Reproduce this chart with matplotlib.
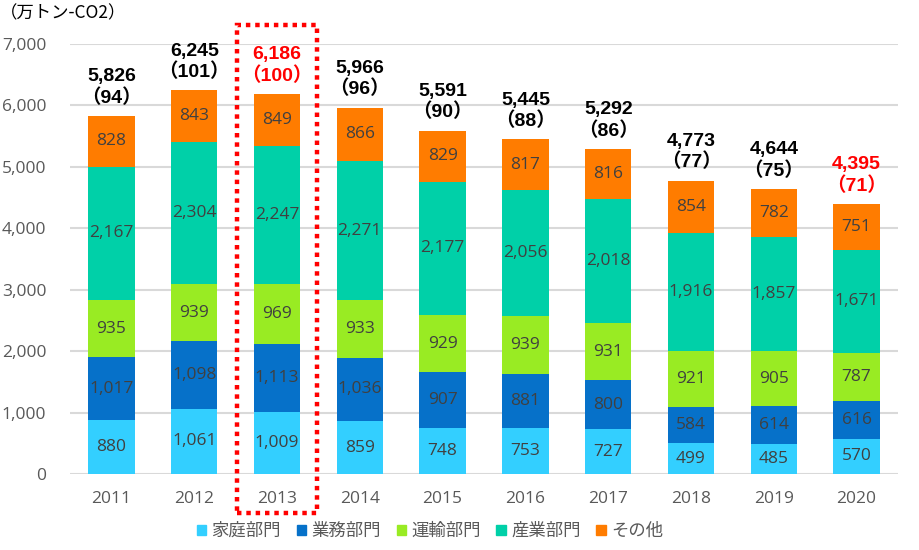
import matplotlib
matplotlib.use("Agg")
import matplotlib.pyplot as plt
from matplotlib.patches import Rectangle
import matplotlib.transforms as mtransforms
import numpy as np

years = ["2011", "2012", "2013", "2014", "2015", "2016", "2017", "2018", "2019", "2020"]
series_names = ["家庭部門", "業務部門", "運輸部門", "産業部門", "その他"]
household = [880, 1061, 1009, 859, 748, 753, 727, 499, 485, 570]
business = [1017, 1098, 1113, 1036, 907, 881, 800, 584, 614, 616]
transport = [935, 939, 969, 933, 929, 939, 931, 921, 905, 787]
industry = [2167, 2304, 2247, 2271, 2177, 2056, 2018, 1916, 1857, 1671]
other = [828, 843, 849, 866, 829, 817, 816, 854, 782, 751]
totals = [5826, 6245, 6186, 5966, 5591, 5445, 5292, 4773, 4644, 4395]
index_vals = [94, 101, 100, 96, 90, 88, 86, 77, 75, 71]
highlight_years = ["2013", "2020"]
highlight_box_year = "2013"

colors = ["#33CFFF", "#0671C9", "#99EB23", "#00D0A8", "#FF7C00"]
CJK = ["Noto Sans CJK JP", "DejaVu Sans"]
NUM = ["Liberation Sans", "Noto Sans CJK JP"]
LAB = ["Open Sans", "DejaVu Sans"]

fig = plt.figure(figsize=(9.2, 5.5), dpi=100)
ax = fig.add_axes([70 / 920, 1 - 474 / 550, 828 / 920, 430 / 550])

x = np.arange(len(years))
series = [household, business, transport, industry, other]
bottom = np.zeros(len(years))
width = 0.56
for vals, col in zip(series, colors):
    vals = np.array(vals, dtype=float)
    ax.bar(x, vals, width, bottom=bottom, color=col, zorder=3)
    for xi, b, v in zip(x, bottom, vals):
        ax.text(xi, b + v / 2, f"{int(v):,}", ha="center", va="center",
                fontsize=12.5, color="#404040", family=LAB, zorder=4)
    bottom += vals

for xi, yr, tot, idx in zip(x, years, totals, index_vals):
    c = "#FF0000" if yr in highlight_years else "#000000"
    ax.text(xi, bottom[xi] + 150, f"{tot:,}\n（{idx}）", ha="center", va="bottom",
            fontsize=14, fontweight="bold", color=c, family=NUM,
            linespacing=1.2, clip_on=False, zorder=5)

ax.set_xlim(-0.5, len(years) - 0.5)
ax.set_ylim(0, 7000)
ax.set_yticks(np.arange(0, 7001, 1000))
ax.set_yticklabels([f"{v:,}" for v in range(0, 7001, 1000)])
ax.set_xticks(x)
ax.set_xticklabels(years)
ax.tick_params(axis="both", length=0, labelsize=12.5, labelcolor="#595959")
ax.tick_params(axis="y", pad=17)
ax.tick_params(axis="x", pad=12)
for lab in ax.get_xticklabels() + ax.get_yticklabels():
    lab.set_family(LAB)
ax.grid(axis="y", color="#D9D9D9", linewidth=1.5, zorder=0)
for s in ax.spines.values():
    s.set_visible(False)

fig.text(0 / 920, 1 - 13 / 550, "（万トン-CO2）", fontsize=12.5, color="#000000",
         family=CJK, ha="left", va="center")

# highlight box
hx = years.index(highlight_box_year)
trans = mtransforms.blended_transform_factory(ax.transData, fig.transFigure)
rect = Rectangle((hx - 0.48, 1 - 513 / 550), 0.96, 488 / 550, transform=trans,
                 fill=False, edgecolor="#FF0000", linewidth=3.2,
                 linestyle=(0, (1, 1.1)), clip_on=False, zorder=6)
fig.patches.append(rect)

handles = [Rectangle((0, 0), 1, 1, color=c) for c in colors]
leg = fig.legend(handles, series_names, loc="center", bbox_to_anchor=(430 / 920, 1 - 531 / 550),
                 ncol=5, frameon=False, handlelength=0.55, handleheight=0.55,
                 handletextpad=0.3, columnspacing=0.9, prop={"family": CJK, "size": 12.5})
for t in leg.get_texts():
    t.set_color("#595959")

fig.savefig("out.png", dpi=100)
